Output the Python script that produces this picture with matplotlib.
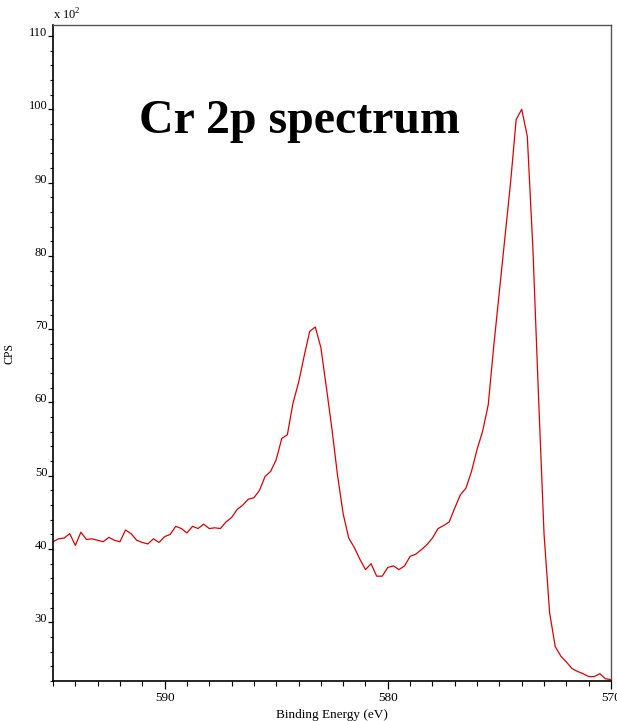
import matplotlib as mpl
mpl.use('Agg')
import matplotlib.pyplot as plt
from matplotlib.ticker import MultipleLocator
import numpy as np

plt.rcParams['font.family'] = 'serif'
plt.rcParams['font.serif'] = ['Liberation Serif', 'DejaVu Serif']
plt.rcParams['mathtext.fontset'] = 'custom'
plt.rcParams['mathtext.rm'] = 'Liberation Serif'

# Cr 2p scan, 0.25 eV steps starting at 595 eV binding energy (counts in units of 100)
e_start = 595.0
e_step = 0.25
cps = [41.0, 41.4, 41.5, 42.1, 40.5, 42.3, 41.3, 41.4, 41.2, 41.0,
       41.6, 41.2, 41.0, 42.6, 42.1, 41.2, 40.9, 40.7, 41.4, 40.9,
       41.7, 42.0, 43.1, 42.8, 42.2, 43.1, 42.8, 43.4, 42.8, 42.9,
       42.8, 43.7, 44.3, 45.4, 46.0, 46.8, 47.0, 48.0, 49.9, 50.6,
       52.2, 55.1, 55.6, 59.9, 62.7, 66.3, 69.7, 70.3, 67.5, 62.0,
       56.3, 50.0, 44.8, 41.5, 40.2, 38.6, 37.2, 38.0, 36.3, 36.3,
       37.5, 37.7, 37.2, 37.7, 39.0, 39.3, 39.9, 40.6, 41.5, 42.8,
       43.2, 43.7, 45.6, 47.4, 48.3, 50.6, 53.6, 56.1, 59.7, 67.8,
       75.2, 82.6, 90.0, 98.6, 100.0, 96.3, 81.0, 61.0, 42.0, 31.3,
       26.7, 25.4, 24.6, 23.7, 23.3, 23.0, 22.6, 22.6, 23.0, 22.3,
       22.2]
energy = e_start - e_step * np.arange(len(cps))

fig = plt.figure(figsize=(6.17, 7.21), dpi=100)
ax = fig.add_axes([0.0859, 0.0555, 0.9044, 0.9098])

ax.plot(energy, cps, color='#e00000', linewidth=0.9)

ax.set_xlim(595, 570)
ax.set_ylim(22.0, 111.5)

ax.xaxis.set_major_locator(MultipleLocator(10))
ax.xaxis.set_minor_locator(MultipleLocator(1))
ax.yaxis.set_major_locator(MultipleLocator(10))
ax.yaxis.set_minor_locator(MultipleLocator(2))

ax.tick_params(axis='x', which='major', direction='out', length=6, width=0.9,
               pad=2, labelsize=9.5)
ax.tick_params(axis='x', which='minor', direction='out', length=3.4, width=0.8)
ax.tick_params(axis='y', which='major', direction='out', length=3.6, width=0.9,
               pad=0.5, labelsize=9)
ax.tick_params(axis='y', which='minor', direction='out', length=2, width=0.8)
for lab in ax.get_yticklabels():
    lab.set_verticalalignment('baseline')

for side in ['left', 'bottom']:
    ax.spines[side].set_linewidth(1.2)
for side in ['top', 'right']:
    ax.spines[side].set_linewidth(1.0)
    ax.spines[side].set_color('#555555')

ax.set_xlabel('Binding Energy (eV)', fontsize=9.5)
ax.xaxis.set_label_coords(0.5, -0.043)
ax.set_ylabel('CPS', fontsize=8.5)
ax.yaxis.set_label_coords(-0.068, 0.5)

ax.text(0.0, 1.004, r'x 10$^2$', transform=ax.transAxes, ha='left', va='bottom',
        fontsize=9)
ax.text(0.441, 0.854, 'Cr 2p spectrum', transform=ax.transAxes, ha='center',
        va='center', fontsize=34.5, fontweight='bold')

plt.savefig('out.png', dpi=100)
